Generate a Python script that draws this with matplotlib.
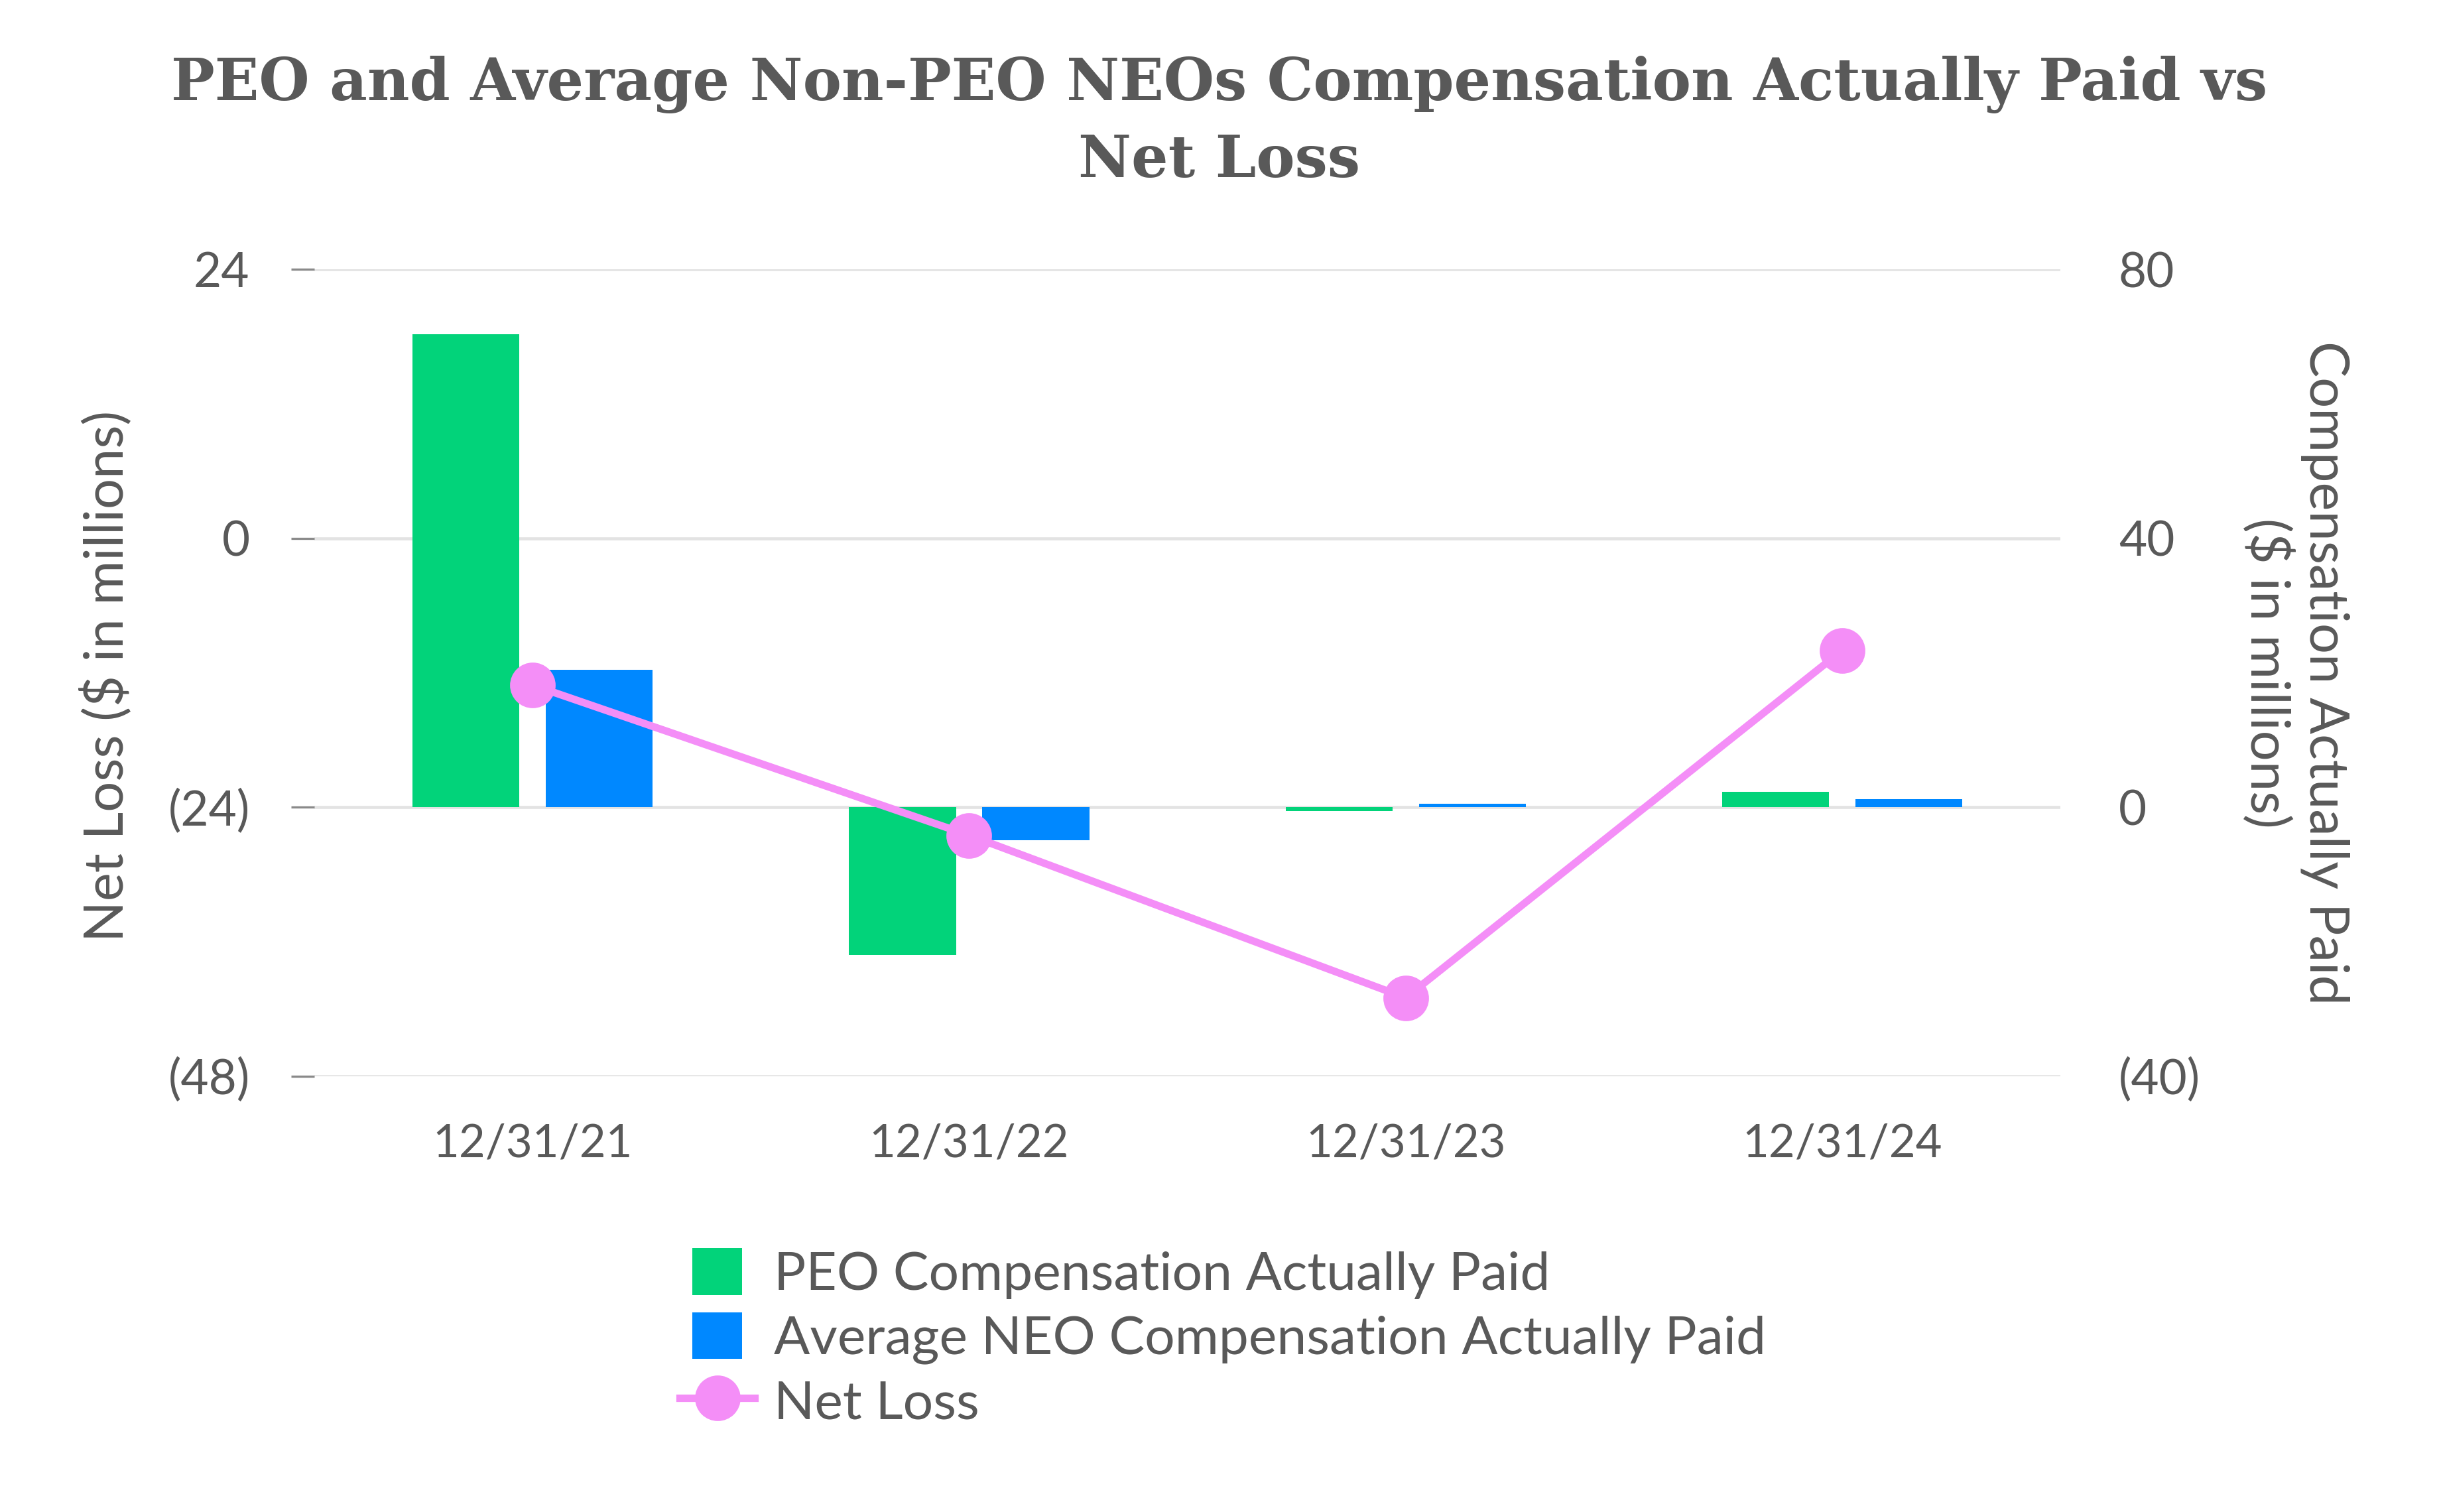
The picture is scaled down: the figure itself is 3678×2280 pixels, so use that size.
import matplotlib
matplotlib.use('Agg')
import matplotlib.pyplot as plt
from matplotlib.legend_handler import HandlerLine2D
import numpy as np

# Datos
fechas = ['12/31/21', '12/31/22', '12/31/23', '12/31/24']
peo_cap = [70.3, -22.0, -0.6, 2.3]      # eje derecho
neo_cap = [20.4, -4.9, 0.5, 1.2]        # eje derecho
perdida_neta = [-13.1, -26.5, -41.0, -10.0]  # eje izquierdo

izq_ticks = [24, 0, -24, -48]
izq_labels = ['24', '0', '(24)', '(48)']
der_ticks = [80, 40, 0, -40]
der_labels = ['80', '40', '0', '(40)']

# Estilo
gris_txt = '#595959'
verde = '#02D37A'
azul = '#0088FF'
rosa = '#F48EF7'
plt.rcParams['font.family'] = ['Lato', 'DejaVu Sans']


# Manejador de leyenda con la linea un poco mas ancha que los cuadrados
class HandlerLineaAncha(HandlerLine2D):
    def create_artists(self, legend, orig_handle, xdescent, ydescent, width, height,
                       fontsize, trans):
        extra = 0.25 * width
        return super().create_artists(legend, orig_handle, xdescent + extra, ydescent,
                                      width + 2 * extra, height, fontsize, trans)


fig = plt.figure(figsize=(12.26, 7.6), dpi=300)
ax = fig.add_axes([0.1289, 0.2882, 0.7159, 0.5337])
ax2 = ax.twinx()

x = np.arange(len(fechas))
ancho = 0.245
sep = 0.1525

# Barras en eje derecho
b1 = ax2.bar(x - sep, peo_cap, ancho, color=verde, label='PEO Compensation Actually Paid', zorder=2)
b2 = ax2.bar(x + sep, neo_cap, ancho, color=azul, label='Average NEO Compensation Actually Paid', zorder=2)

# Linea en eje izquierdo
ln, = ax.plot(x, perdida_neta, color=rosa, linewidth=2.7, marker='o', markersize=15.5,
              label='Net Loss', zorder=3)

ax.set_zorder(2)
ax2.set_zorder(1)
ax.patch.set_visible(False)

ax.set_xlim(-0.5, 3.5)
ax.set_ylim(-48, 24)
ax2.set_ylim(-40, 80)

ax.set_yticks(izq_ticks, izq_labels)
ax2.set_yticks(der_ticks, der_labels)
ax.set_xticks(x, fechas)

ax2.grid(axis='y', color='#e3e3e3', linewidth=1.1)
ax2.set_axisbelow(True)

for a in (ax, ax2):
    for s in a.spines.values():
        s.set_visible(False)

ax.tick_params(axis='y', length=8.4, width=0.8, color='#8a8a8a', pad=15,
               labelsize=17.5, labelcolor=gris_txt)
ax2.tick_params(axis='y', length=0, pad=21, labelsize=17.5, labelcolor=gris_txt)
ax.tick_params(axis='x', length=0, pad=17, labelsize=16.5, labelcolor=gris_txt)
ax2.tick_params(axis='x', length=0)

fig.text(0.0435, 0.553, 'Net Loss ($ in millions)', rotation=90, ha='center', va='center',
         fontsize=19.5, color=gris_txt)
fig.text(0.9413, 0.555, 'Compensation Actually Paid\n($ in millions)', rotation=-90,
         ha='center', va='center', fontsize=19.5, color=gris_txt, linespacing=1.15)

fig.text(0.5, 0.919, 'PEO and Average Non-PEO NEOs Compensation Actually Paid vs\nNet Loss',
         ha='center', va='center', fontsize=21, fontweight='bold', family='DejaVu Serif',
         color=gris_txt, linespacing=1.43)

fig.legend(handles=[b1, b2, ln], loc='upper left', bbox_to_anchor=(0.2838, 0.1745),
           frameon=False, fontsize=19.3, labelcolor=gris_txt, handlelength=0.94,
           handleheight=0.97, handletextpad=0.59, labelspacing=0.245, borderaxespad=0,
           borderpad=0, handler_map={ln: HandlerLineaAncha()})

plt.savefig('out.png', dpi=300)
